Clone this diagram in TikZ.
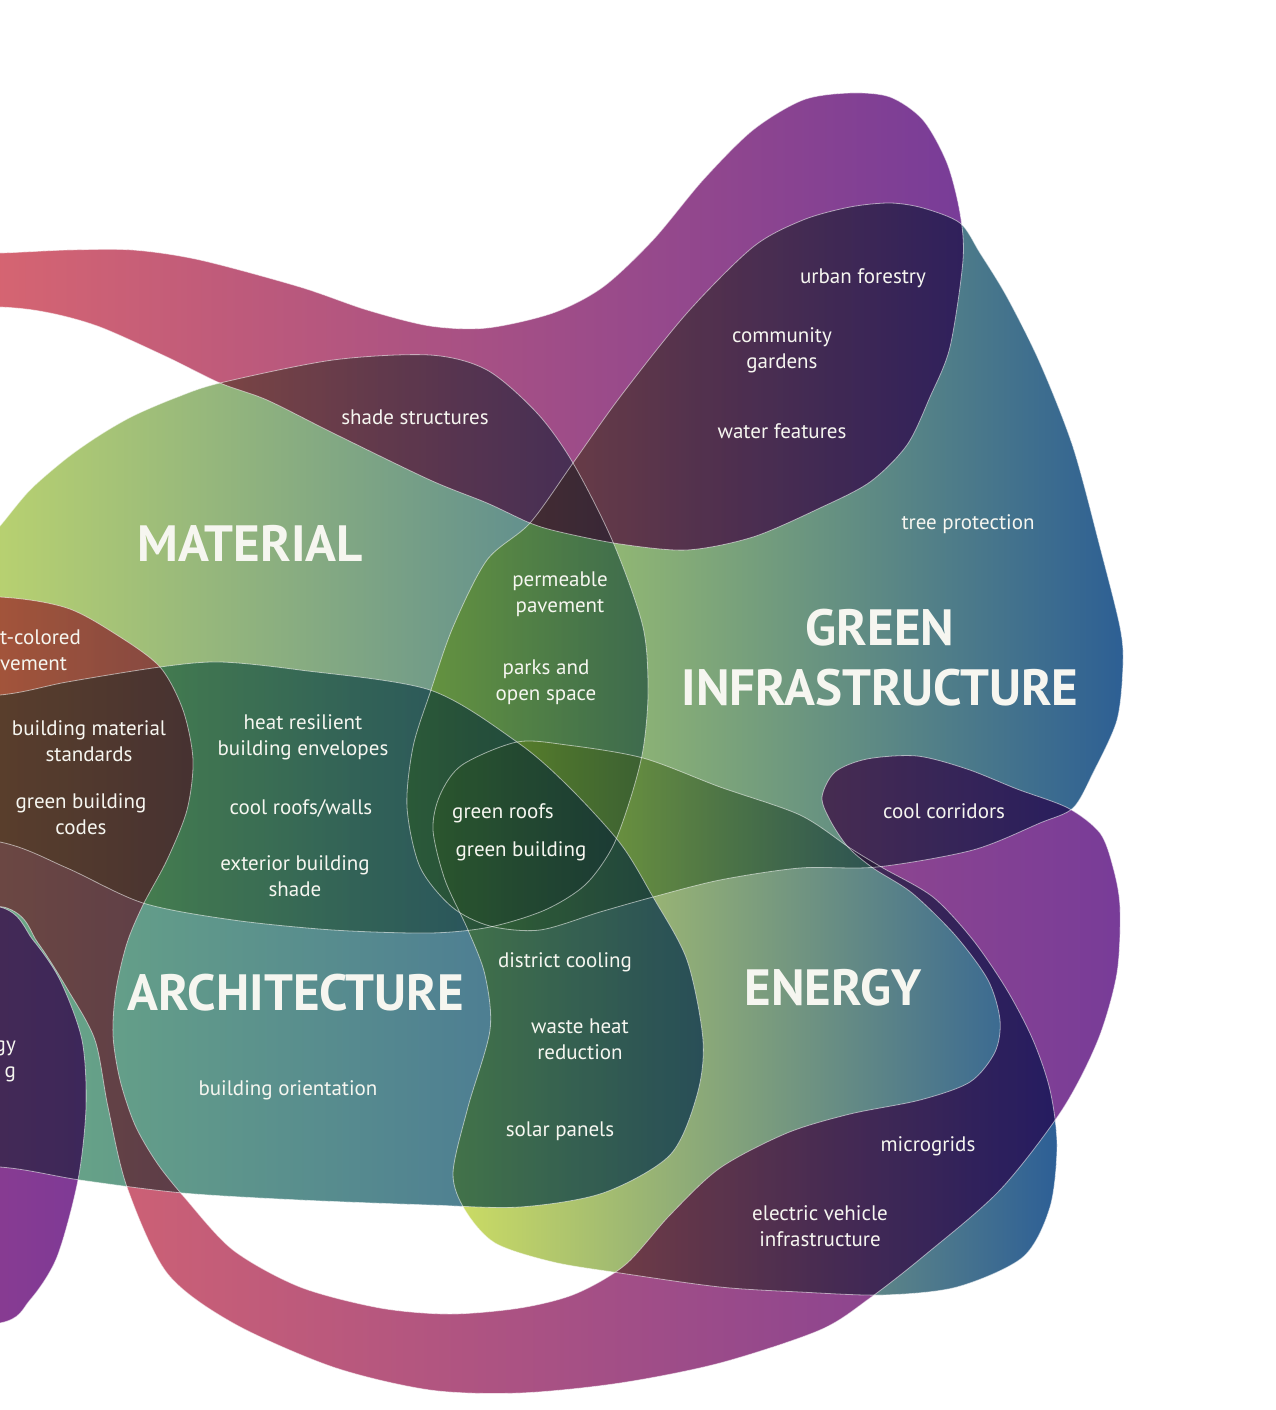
\documentclass[tikz,border=0pt]{standalone}
\usepackage{fontspec}
\setmainfont{PT Sans}
\definecolor{txt}{RGB}{246,246,240}
\definecolor{rbL}{RGB}{226,106,108}
\definecolor{rbM}{RGB}{180,80,128}
\definecolor{rbR}{RGB}{120,60,152}
\definecolor{maL}{RGB}{205,225,105}
\definecolor{maM}{RGB}{150,200,115}
\definecolor{maR}{RGB}{80,130,148}
\definecolor{giL}{RGB}{185,218,102}
\definecolor{giM}{RGB}{115,170,128}
\definecolor{giR}{RGB}{45,95,148}
\definecolor{arL}{RGB}{115,180,130}
\definecolor{arM}{RGB}{88,142,145}
\definecolor{arR}{RGB}{65,108,152}
\definecolor{enL}{RGB}{210,225,98}
\definecolor{enM}{RGB}{115,170,125}
\definecolor{enR}{RGB}{45,95,150}
\definecolor{pbL}{RGB}{150,60,140}
\definecolor{pbR}{RGB}{126,58,150}
\tikzset{
  edge/.style={draw=white, draw opacity=0.55, line width=0.8pt},
  tint/.style={fill opacity=0.2},
  softtint/.style={fill opacity=0.15},
  lbl/.style={text=txt, font=\fontsize{21}{26}\selectfont, align=center, inner sep=0pt},
  biglbl/.style={text=txt, font=\fontsize{51}{60}\selectfont\bfseries, align=center, inner sep=0pt},
  rbshade/.style={left color=rbL, middle color=rbM, right color=rbR},
  mashade/.style={left color=maL, middle color=maM, right color=maR},
  gishade/.style={left color=giL, middle color=giM, right color=giR},
  arshade/.style={left color=arL, middle color=arM, right color=arR},
  enshade/.style={left color=enL, middle color=enM, right color=enR},
  pbshade/.style={left color=pbL, right color=pbR},
}
\def\pTB{plot[smooth cycle] coordinates {(-120,256) (0,253) (67,250) (133,250) (200,260) (300,287) (367,310) (430,326) (487,328) (553,313) (603,287) (653,240) (703,180) (753,130) (803,100) (850,93) (890,97) (923,120) (947,163) (960,213) (963,260) (950,347) (930,397) (907,445) (870,482) (820,508) (753,537) (687,550) (620,544) (560,532) (530,523) (487,503) (430,480) (333,433) (267,400) (220,383) (167,357) (100,327) (50,313) (0,307) (-120,305)}}
\def\pRB{plot[smooth cycle] coordinates {(-120,597) (0,597) (67,608) (117,635) (160,667) (183,710) (193,760) (187,810) (167,860) (143,905) (127,943) (116,990) (113,1035) (120,1080) (135,1125) (157,1163) (185,1198) (233,1250) (300,1287) (380,1308) (450,1314) (520,1308) (575,1294) (625,1265) (670,1215) (720,1168) (787,1133) (850,1114) (920,1100) (970,1082) (995,1052) (1000,1020) (988,980) (955,935) (912,893) (873,868) (848,847) (830,820) (822,797) (835,772) (867,759) (917,756) (967,769) (1017,789) (1068,808) (1100,833) (1113,867) (1120,907) (1117,973) (1098,1040) (1062,1110) (1000,1190) (925,1255) (870,1298) (820,1330) (720,1363) (620,1383) (520,1393) (430,1390) (333,1367) (233,1323) (167,1273) (127,1187) (108,1107) (95,1040) (68,990) (38,943) (7,908) (-120,885)}}
\def\pMA{plot[smooth cycle] coordinates {(-120,640) (-20,548) (0,526) (30,490) (67,458) (100,435) (133,416) (175,398) (220,383) (333,360) (430,355) (487,370) (537,413) (573,463) (613,542) (643,627) (648,693) (643,750) (630,800) (612,848) (585,885) (545,910) (490,927) (430,933) (333,930) (233,920) (143,903) (67,868) (0,842) (-120,830)}}
\def\pGI{plot[smooth cycle] coordinates {(530,523) (573,463) (620,397) (687,313) (753,247) (803,220) (850,207) (890,203) (923,208) (960,223) (980,253) (1007,297) (1040,363) (1073,447) (1100,547) (1120,627) (1123,665) (1117,720) (1093,773) (1073,808) (1040,823) (973,850) (877,867) (800,868) (720,880) (653,897) (600,912) (540,930) (490,926) (452,907) (420,867) (407,807) (413,747) (430,693) (453,627) (487,560)}}
\def\pAR{plot[smooth cycle] coordinates {(-120,700) (0,695) (67,682) (160,667) (220,662) (300,670) (430,690) (517,742) (567,785) (620,843) (653,897) (687,960) (703,1040) (697,1095) (670,1155) (603,1193) (520,1207) (430,1205) (300,1200) (183,1193) (80,1180) (0,1167) (-120,1165)}}
\def\pEN{plot[smooth cycle] coordinates {(433,830) (440,795) (462,765) (517,742) (567,745) (643,758) (720,787) (800,815) (850,848) (883,868) (933,897) (973,940) (1007,990) (1033,1040) (1050,1090) (1057,1145) (1050,1207) (1023,1257) (957,1287) (883,1295) (800,1292) (720,1287) (620,1273) (553,1262) (495,1243) (465,1210) (453,1173) (468,1107) (490,1030) (485,975) (468,930) (445,880)}}
\def\pPB{plot[smooth cycle] coordinates {(-120,900) (0,907) (33,940) (60,980) (82,1040) (86,1107) (78,1180) (57,1257) (30,1300) (0,1323) (-120,1330)}}
\begin{document}
\begin{tikzpicture}[x=1pt,y=-1pt]
\useasboundingbox (0,0) rectangle (1275,1410);
% each blob: multiplied, then a light normal tint of itself
\begin{scope}[blend mode=multiply]\path[mashade] \pMA;\end{scope}
\path[mashade, tint] \pMA;
\begin{scope}[blend mode=multiply]\path[gishade] \pGI;\end{scope}
\path[gishade, tint] \pGI;
\begin{scope}[blend mode=multiply]\path[enshade] \pEN;\end{scope}
\path[enshade, tint] \pEN;
\begin{scope}[blend mode=multiply]\path[arshade] \pAR;\end{scope}
\path[arshade, tint] \pAR;
\begin{scope}[blend mode=multiply]\path[pbshade] \pPB;\end{scope}
\path[pbshade, softtint] \pPB;
\begin{scope}[blend mode=multiply]\path[rbshade] \pRB;\end{scope}
\path[rbshade, softtint] \pRB;
\begin{scope}[blend mode=multiply]\path[rbshade] \pTB;\end{scope}
\path[rbshade, softtint] \pTB;
% outlines
\path[edge] \pTB; \path[edge] \pRB; \path[edge] \pPB; \path[edge] \pMA;
\path[edge] \pGI; \path[edge] \pAR; \path[edge] \pEN;
% labels
\node[lbl] (t1) at (863,278) {urban forestry};
\node[lbl] (t2) at (782,350) {community\\gardens};
\node[lbl] (t3) at (782,431) {water features};
\node[lbl] (t4) at (415,417) {shade structures};
\node[lbl] (t5) at (968,524) {tree protection};
\node[biglbl] (L1) at (250,543) {MATERIAL};
\node[lbl] (t6) at (560,594) {permeable\\pavement};
\node[lbl] (t7) at (546,682) {parks and\\open space};
\node[biglbl] (L2) at (880,658) {GREEN\\INFRASTRUCTURE};
\node[lbl, align=left, anchor=west] (t8) at (0,650) {t-colored\\vement};
\node[lbl] (t9) at (89,741) {building material\\standards};
\node[lbl] (t10) at (81,814) {green building\\codes};
\node[lbl] (t11) at (303,737) {heat resilient\\building envelopes};
\node[lbl] (t12) at (301,808) {cool roofs/walls};
\node[lbl] (t13) at (295,876) {exterior building\\shade};
\node[lbl] (t14) at (503,813) {green roofs};
\node[lbl] (t15) at (521,851) {green building};
\node[lbl] (t16) at (944,811) {cool corridors};
\node[lbl] (t17) at (565,962) {district cooling};
\node[biglbl] (L3) at (296,993) {ARCHITECTURE};
\node[biglbl] (L4) at (833,988) {ENERGY};
\node[lbl] (t18) at (580,1039) {waste heat\\reduction};
\node[lbl, align=right, anchor=east] (t19) at (16,1061) {gy\\g};
\node[lbl] (t20) at (288,1090) {building orientation};
\node[lbl] (t21) at (560,1131) {solar panels};
\node[lbl] (t22) at (928,1146) {microgrids};
\node[lbl] (t23) at (820,1226) {electric vehicle\\infrastructure};
\end{tikzpicture}
\end{document}
